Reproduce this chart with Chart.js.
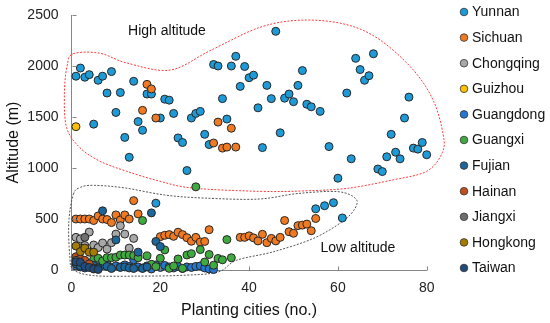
<!DOCTYPE html>
<html><head><meta charset="utf-8">
<script src="https://cdn.jsdelivr.net/npm/chart.js@4"></script>
<style>html,body{margin:0;padding:0;background:#fff}#wrap{width:550px;height:323px}</style>
</head><body><div id="wrap"><canvas id="c" width="550" height="323"></canvas></div>
<script>
// ---- data (x = planting city rank, y = altitude m) ----
const seriesNames = ['Yunnan','Sichuan','Chongqing','Guizhou','Guangdong','Guangxi','Fujian','Hainan','Jiangxi','Hongkong','Taiwan'];
const yunnan = [[1,1900],[2,1980],[3,1890],[4,1915],[5,1430],[6,1860],[7,1900],[8,1735],[9,1945],[10,1545],[11,1740],[12,1300],[13,1105],[14,1850],[15,1455],[16,1370],[17,1725],[18,1725],[19,655],[20,1490],[21,1675],[22,1665],[23,1535],[24,1295],[25,1250],[26,975],[27,1490],[28,1535],[29,1555],[30,1330],[31,1230],[32,2015],[33,2000],[34,1680],[35,1480],[36,2000],[37,2095],[38,1800],[39,1995],[40,1885],[41,1910],[42,1590],[43,1200],[44,1810],[45,1680],[46,2340],[47,1345],[48,1685],[49,1725],[50,1650],[51,1810],[52,1955],[53,1625],[54,1600],[55,600],[56,1555],[57,630],[58,1210],[59,660],[60,900],[61,510],[62,1735],[63,1090],[64,2075],[65,1965],[66,1860],[67,1905],[68,2120],[69,990],[70,965],[71,1110],[72,1330],[73,1155],[74,1090],[75,1490],[76,1695],[77,1195],[78,1185],[79,1250],[80,1130]];
const sichuan = [[1,500],[2,500],[3,500],[4,500],[5,485],[6,530],[7,500],[8,495],[9,465],[10,540],[11,490],[12,540],[13,500],[14,680],[15,550],[16,1565],[17,1820],[18,1775],[19,1490],[20,327],[21,340],[22,347],[23,330],[24,370],[25,347],[26,317],[27,282],[28,320],[29,275],[30,280],[31,395],[32,1245],[33,1450],[34,1195],[35,1205],[36,1390],[37,1205],[38,320],[39,320],[40,335],[41,315],[42,285],[43,350],[44,268],[45,310],[46,285],[47,320],[48,485],[49,375],[50,360],[51,435],[52,440],[53,450],[54,385],[55,505]];
const chongqing = [[1,320],[2,305],[3,240],[4,372],[5,245],[6,220],[7,265],[8,205],[9,268],[10,352],[11,434],[12,352],[13,215],[14,310]];
const guizhou = [[1,1405]];
const guangdong = [[1,40],[2,30],[3,20],[4,55],[5,35],[6,30],[7,45],[8,60],[9,25],[10,40],[11,30],[12,50],[13,35],[14,100],[15,30],[16,20],[17,40],[18,10],[19,50],[20,25],[21,45],[22,30],[23,20],[24,35],[25,15],[26,30],[27,25],[28,35],[29,40],[30,20],[31,10],[32,5]];
const guangxi = [[5,105],[6,115],[7,88],[8,121],[9,121],[10,125],[11,147],[12,147],[13,147],[14,141],[15,120],[16,485],[17,138],[18,56],[19,33],[20,115],[21,197],[22,16],[23,39],[24,108],[25,16],[26,147],[27,160],[28,815],[29,200],[30,78],[31,152],[32,47],[33,113],[34,100],[35,298],[36,120]];
const fujian = [[1,60],[2,40],[3,80],[4,30],[5,45],[6,20],[7,580],[8,35],[9,15],[10,295],[11,25],[12,30],[13,20],[14,15],[15,175],[16,15],[17,30],[18,560],[19,280],[20,230]];
const hainan = [[1,130],[2,110],[3,95],[4,60],[5,15]];
const jiangxi = [[1,95],[2,215],[3,320]];
const hongkong = [[1,235],[2,180],[3,215],[4,175],[5,175]];
const taiwan = [[1,80],[2,75],[3,35],[4,25],[5,10],[6,5]];
const xTicks = [0,20,40,60,80];
const yTicks = [0,500,1000,1500,2000,2500];

const seriesData = [yunnan,sichuan,chongqing,guizhou,guangdong,guangxi,fujian,hainan,jiangxi,hongkong,taiwan];
const seriesColors = ['#1E9BD7','#F07A22','#A8A8A8','#FFC000','#2577CF','#3FAA3F','#1C6699','#C0501F','#6E6E6E','#A67C00','#204C7C'];

// enclosure outlines (data space)
const highOutline = [[0.4,2120],[6.4,2125],[12.4,2030],[22.2,1960],[31.2,2150],[42.5,2380],[52.2,2450],[62,2405],[69.5,2255],[77,1960],[81.5,1660],[83.7,1330],[83.5,1150],[80,968],[72,880],[62,800],[52,775],[42.5,771],[27.4,803],[19.9,870],[12.4,968],[6.4,1067],[1.9,1199],[-1.1,1396],[-1.6,1726],[-1,2000]];
const lowOutline = [[0.4,740],[2,810],[5,830],[12,805],[21,735],[30,705],[42,695],[51,750],[60,768],[64,700],[63.8,600],[61,475],[54.5,310],[45.4,178],[37.2,96],[33,-20],[25,-52],[15,-60],[5,-55],[0.4,5],[-0.4,145],[-0.6,474]];

const FONT = "'Liberation Sans', Arial, sans-serif";

function closedCurve(ctx, pts){
  const n = pts.length;
  ctx.beginPath();
  ctx.moveTo(pts[0][0], pts[0][1]);
  for (let i=0;i<n;i++){
    const p0=pts[(i-1+n)%n], p1=pts[i], p2=pts[(i+1)%n], p3=pts[(i+2)%n];
    const c1x=p1[0]+(p2[0]-p0[0])/6, c1y=p1[1]+(p2[1]-p0[1])/6;
    const c2x=p2[0]-(p3[0]-p1[0])/6, c2y=p2[1]-(p3[1]-p1[1])/6;
    ctx.bezierCurveTo(c1x,c1y,c2x,c2y,p2[0],p2[1]);
  }
  ctx.closePath();
}

const decor = {
  id:'decor',
  beforeDatasetsDraw(chart){
    const {ctx, scales:{x,y}} = chart;
    const toPx = a => a.map(p=>[x.getPixelForValue(p[0]), y.getPixelForValue(p[1])]);
    ctx.save();
    ctx.lineWidth = 1;
    ctx.setLineDash([2,1.5]);
    ctx.strokeStyle = '#FF3B3B';
    closedCurve(ctx, toPx(highOutline)); ctx.stroke();
    ctx.strokeStyle = '#555555';
    closedCurve(ctx, toPx(lowOutline)); ctx.stroke();
    ctx.setLineDash([]);
    ctx.fillStyle = '#111';
    ctx.font = '14px ' + FONT;
    ctx.textAlign = 'center'; ctx.textBaseline = 'middle';
    ctx.fillText('High altitude', x.getPixelForValue(21.5), y.getPixelForValue(2340));
    ctx.fillText('Low altitude', x.getPixelForValue(64.5), y.getPixelForValue(215));
    ctx.restore();
  },
  afterDraw(chart){
    const {ctx, scales:{x,y}} = chart;
    ctx.save();
    ctx.strokeStyle = '#868686'; ctx.lineWidth = 1;
    ctx.beginPath();
    const yb = Math.round(y.getPixelForValue(0))+0.5;
    const xl = Math.round(x.getPixelForValue(0))+0.5;
    xTicks.forEach(v=>{ const px=Math.round(x.getPixelForValue(v))+0.5; ctx.moveTo(px,yb); ctx.lineTo(px,yb-4); });
    yTicks.forEach(v=>{ const py=Math.round(y.getPixelForValue(v))+0.5; ctx.moveTo(xl,py); ctx.lineTo(xl+4,py); });
    ctx.stroke();
    // legend
    const ds = chart.data.datasets;
    ctx.font = '14px ' + FONT;
    ctx.textAlign = 'left'; ctx.textBaseline = 'middle';
    ds.forEach((d,i)=>{
      const cy = 12 + i*25.6;
      ctx.beginPath(); ctx.arc(464, cy, 3.8, 0, Math.PI*2);
      ctx.fillStyle = d.backgroundColor; ctx.fill();
      ctx.strokeStyle = '#333'; ctx.lineWidth = 0.8; ctx.stroke();
      ctx.fillStyle = '#111';
      ctx.fillText(d.label, 472, cy+0.5);
    });
    ctx.restore();
  }
};

new Chart(document.getElementById('c'), {
  type:'scatter',
  data:{ datasets: seriesNames.map((n,i)=>({
    label:n,
    data: seriesData[i].map(p=>({x:p[0], y:p[1]})),
    backgroundColor: seriesColors[i],
    borderColor:'#262626', borderWidth:1,
    pointRadius:4, pointHoverRadius:4,
    clip:false,
    order: seriesNames.length - i
  }))},
  options:{
    responsive:false, animation:false, devicePixelRatio:1,
    layout:{padding:{left:0, right:123.3, top:15, bottom:1}},
    plugins:{legend:{display:false}, tooltip:{enabled:false}},
    scales:{
      x:{ type:'linear', min:0, max:80,
        afterBuildTicks:s=>{ s.ticks = xTicks.map(v=>({value:v})); },
        afterFit:s=>{ s.height = 52; },
        grid:{display:true, drawOnChartArea:false, drawTicks:true, tickLength:10, color:'rgba(0,0,0,0)'},
        border:{display:true, color:'#868686', width:1},
        ticks:{padding:0, color:'#222', font:{family:FONT, size:14}, callback:v=>String(v)},
        title:{display:true, text:'Planting cities (no.)', color:'#111', font:{family:FONT, size:16}, padding:{top:0,bottom:2}}
      },
      y:{ type:'linear', min:0, max:2500,
        afterBuildTicks:s=>{ s.ticks = yTicks.map(v=>({value:v})); },
        afterFit:s=>{ s.width = 71.5; },
        grid:{display:true, drawOnChartArea:false, drawTicks:true, tickLength:13, color:'rgba(0,0,0,0)'},
        border:{display:true, color:'#868686', width:1},
        ticks:{padding:0, color:'#222', font:{family:FONT, size:14}, callback:v=>String(v)},
        title:{display:true, text:'Altitude (m)', color:'#111', font:{family:FONT, size:16}, padding:{top:4,bottom:0}}
      }
    }
  },
  plugins:[decor]
});
</script></body></html>
